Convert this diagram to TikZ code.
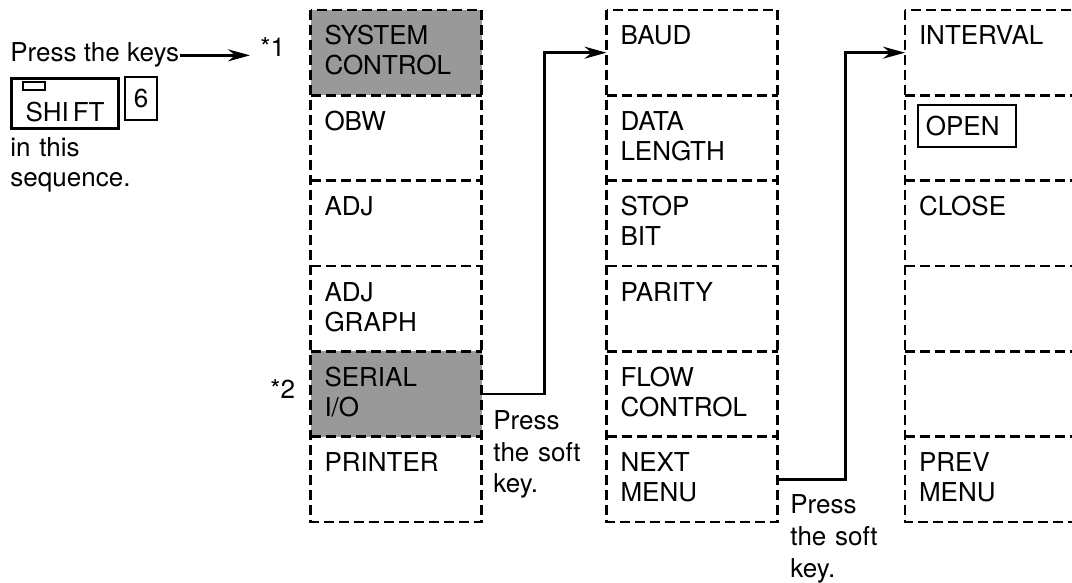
\documentclass[tikz,border=0pt]{standalone}
\usepackage{fontspec}
\setmainfont{TeX Gyre Heros}
\usetikzlibrary{arrows.meta}
\tikzset{
  menurow/.style={minimum width=85.5pt, inner xsep=7pt, inner ysep=0pt, outer sep=0pt,
    text width=71.5pt, align=left, text height=17.5pt, text depth=25.17pt},
  chosen/.style={menurow, fill=black!40},
  dashrule/.style={line width=1.3pt, dash pattern=on 5pt off 2.5pt},
  link/.style={-{Stealth[length=11pt, width=6pt]}, line width=1.3pt},
  note/.style={anchor=base west, inner sep=0pt, align=left}
}

\begin{document}
\begin{tikzpicture}[x=0.5pt, y=-0.5pt, font=\fontsize{13pt}{15pt}\selectfont]
        \useasboundingbox (0,0) rectangle (1072,583);
        \clip (0,0) rectangle (1072,583);
        \node[note] (press) at (10,62) {Press the keys};
        \node[note] (star1) at (260,57) {*1};
        \node[draw, line width=1.6pt, anchor=north west, minimum width=53.5pt, inner xsep=0pt, inner ysep=0pt,
              text height=21.5pt, text depth=3.5pt] (shiftkey) at (10,77) {SHI\kern2pt FT};
        \node[draw, line width=0.7pt, minimum width=11pt, minimum height=4pt, inner sep=0pt] (led) at (34,86) {};
        \node[draw, line width=1pt, minimum width=16pt, minimum height=21.5pt, inner sep=0pt] (sixkey) at (141,98.5) {6};
        \node[note, text width=70pt] (seqnote) at (10,157) {in this\\sequence.};
        \node[note] (star2) at (270,398) {*2};
        \node[chosen] (c1r1) at (396, 52.67) {SYSTEM\\CONTROL};
        \node[menurow] (c1r2) at (396, 138) {OBW};
        \node[menurow] (c1r3) at (396, 223.33) {ADJ};
        \node[menurow] (c1r4) at (396, 308.67) {ADJ\\GRAPH};
        \node[chosen] (c1r5) at (396, 394) {SERIAL\\I/O};
        \node[menurow] (c1r6) at (396, 479.33) {PRINTER};
        \node[menurow] (c2r1) at (692, 52.67) {BAUD};
        \node[menurow] (c2r2) at (692, 138) {DATA\\LENGTH};
        \node[menurow] (c2r3) at (692, 223.33) {STOP\\BIT};
        \node[menurow] (c2r4) at (692, 308.67) {PARITY};
        \node[menurow] (c2r5) at (692, 394) {FLOW\\CONTROL};
        \node[menurow] (c2r6) at (692, 479.33) {NEXT\\MENU};
        \node[menurow] (c3r1) at (990.5, 52.67) {INTERVAL};
        \node[menurow] (c3r2) at (990.5, 138) {};
        \node[menurow] (c3r3) at (990.5, 223.33) {CLOSE};
        \node[menurow] (c3r4) at (990.5, 308.67) {};
        \node[menurow] (c3r5) at (990.5, 394) {};
        \node[menurow] (c3r6) at (990.5, 479.33) {PREV\\MENU};
        \node[draw, line width=0.9pt, anchor=west, minimum height=21pt, inner xsep=4pt, inner ysep=0pt,
              text width=41pt, align=left] (openkey) at (917,126) {OPEN};
        \draw[dashrule] (c1r1.north west) rectangle (c1r6.south east)
              (c1r1.south west) -- (c1r1.south east) (c1r2.south west) -- (c1r2.south east)
              (c1r3.south west) -- (c1r3.south east) (c1r4.south west) -- (c1r4.south east)
              (c1r5.south west) -- (c1r5.south east);
        \draw[dashrule] (c2r1.north west) rectangle (c2r6.south east)
              (c2r1.south west) -- (c2r1.south east) (c2r2.south west) -- (c2r2.south east)
              (c2r3.south west) -- (c2r3.south east) (c2r4.south west) -- (c2r4.south east)
              (c2r5.south west) -- (c2r5.south east);
        \draw[dashrule] (c3r1.north west) rectangle (c3r6.south east)
              (c3r1.south west) -- (c3r1.south east) (c3r2.south west) -- (c3r2.south east)
              (c3r3.south west) -- (c3r3.south east) (c3r4.south west) -- (c3r4.south east)
              (c3r5.south west) -- (c3r5.south east);
        \draw[link, shorten >=5pt] (press.east) -- (press.east -| star1.west);
        \draw[link] (c1r5.east) -- ++(63,0) |- (c2r1.west);
        \draw[link] (c2r6.east) -- ++(68,0) |- (c3r1.west);
        \node[note, text width=55pt, font=\fontsize{13pt}{16pt}\selectfont] (softnote1) at (493,429) {Press\\the soft\\key.};
        \node[note, text width=55pt, font=\fontsize{13pt}{16pt}\selectfont] (softnote2) at (790,513) {Press\\the soft\\key.};
      \end{tikzpicture}
\end{document}
